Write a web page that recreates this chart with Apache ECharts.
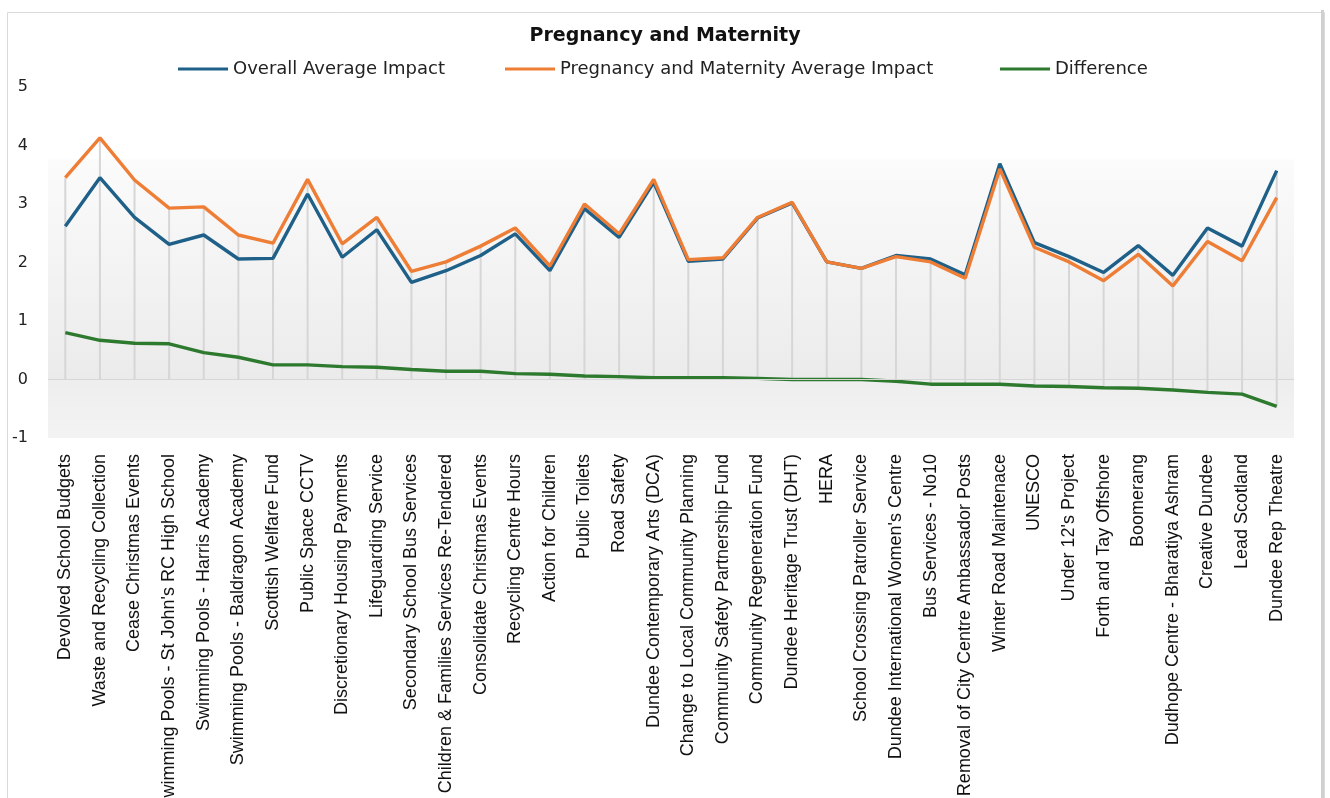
<!DOCTYPE html>
<html>
<head>
<meta charset="utf-8">
<script src="https://cdn.jsdelivr.net/npm/echarts@6/dist/echarts.min.js"></script>
<style>
html,body{margin:0;padding:0;background:#fff;}
#chart{width:1330px;height:798px;}
</style>
</head>
<body>
<div id="chart"></div>
<script>
const categories = [
  "Devolved School Budgets","Waste and Recycling Collection","Cease Christmas Events",
  "Swimming Pools - St John's RC High School","Swimming Pools - Harris Academy","Swimming Pools - Baldragon Academy",
  "Scottish Welfare Fund","Public Space CCTV","Discretionary Housing Payments","Lifeguarding Service",
  "Secondary School Bus Services","Children & Families Services Re-Tendered","Consolidate Christmas Events",
  "Recycling Centre Hours","Action for Children","Public Toilets","Road Safety","Dundee Contemporary Arts (DCA)",
  "Change to Local Community Planning","Community Safety Partnership Fund","Community Regeneration Fund",
  "Dundee Heritage Trust (DHT)","HERA","School Crossing Patroller Service","Dundee International Women's Centre",
  "Bus Services - No10","Removal of City Centre Ambassador Posts","Winter Road Maintenace","UNESCO",
  "Under 12's Project","Forth and Tay Offshore","Boomerang","Dudhope Centre - Bharatiya Ashram",
  "Creative Dundee","Lead Scotland","Dundee Rep Theatre"
];
const overallAvg = [2.62,3.45,2.77,2.31,2.47,2.06,2.07,3.17,2.09,2.56,1.66,1.86,2.12,2.49,1.86,2.92,2.43,3.37,
  2.02,2.06,2.76,3.02,2.01,1.90,2.12,2.06,1.79,3.69,2.34,2.10,1.83,2.29,1.78,2.59,2.28,3.57];
const pregnancyAvg = [3.45,4.13,3.41,2.93,2.95,2.47,2.33,3.42,2.32,2.77,1.85,2.01,2.28,2.59,1.94,3.00,2.49,3.42,
  2.05,2.08,2.77,3.03,2.01,1.90,2.10,2.01,1.73,3.60,2.26,2.01,1.69,2.14,1.60,2.36,2.03,3.11];
const difference = [0.80,0.67,0.62,0.61,0.46,0.38,0.25,0.25,0.22,0.21,0.17,0.14,0.14,0.10,0.09,0.06,0.05,0.03,
  0.03,0.03,0.02,0.00,0.00,0.00,-0.03,-0.08,-0.08,-0.08,-0.11,-0.12,-0.14,-0.15,-0.18,-0.22,-0.25,-0.46];
const yTicks = [-1,0,1,2,3,4,5];
const seriesNames = ["Overall Average Impact","Pregnancy and Maternity Average Impact","Difference"];

const BLUE = '#1f6089', ORANGE = '#ee7d35', GREEN = '#2d7a2f';
const dropData = categories.map((c,i)=>[i, Math.max(overallAvg[i], pregnancyAvg[i], difference[i], 0), Math.min(0, difference[i])]);

const chart = echarts.init(document.getElementById('chart'), null, {renderer:'canvas'});
const legendText = {fontFamily:'DejaVu Sans', fontSize:18, color:'#222'};
function mkLegend(name, left){
  return {data:[name], left:left, top:60, itemWidth:50, itemHeight:3, icon:'rect', itemGap:0, textStyle:legendText, selectedMode:false, padding:0};
}
chart.setOption({
  animation:false,
  backgroundColor:'#fff',
  graphic:[
    {type:'rect', left:5, top:10, shape:{width:1317, height:800}, style:{fill:'none', stroke:'#d9d9d9', lineWidth:1}, silent:true},
    {type:'rect', left:1321, top:10, shape:{width:3, height:800}, style:{fill:'#d0d0d0'}, silent:true}
  ],
  title:{text:'Pregnancy and Maternity', left:'center', top:22,
    textStyle:{fontFamily:'DejaVu Sans', fontWeight:'bold', fontSize:19, color:'#111'}},
  legend:[mkLegend(seriesNames[0],178), mkLegend(seriesNames[1],505), mkLegend(seriesNames[2],1000)],
  grid:{left:48, right:36, top:87, bottom:360, containLabel:false, outerBoundsMode:'none', show:true, borderWidth:0,
    backgroundColor:{type:'linear', x:0, y:0, x2:0, y2:1, colorStops:[
      {offset:0, color:'#ffffff'},{offset:0.205, color:'#ffffff'},{offset:0.208, color:'#fbfbfb'},
      {offset:0.833, color:'#ebebeb'},{offset:0.836, color:'#eeeeee'},{offset:1, color:'#f3f3f3'}]}},
  xAxis:{type:'category', data:categories, boundaryGap:true,
    axisLine:{show:false, onZero:false}, axisTick:{show:false},
    axisLabel:{rotate:90, interval:0, margin:16, fontFamily:'Liberation Sans', fontSize:18, color:'#111'}},
  yAxis:{type:'value', min:-1, max:5, interval:1,
    axisLine:{show:false}, axisTick:{show:false}, splitLine:{show:false},
    axisLabel:{margin:20, fontFamily:'DejaVu Sans', fontSize:16, color:'#222',
      formatter:(v)=> yTicks.includes(v) ? String(v) : ''}},
  series:[
    {type:'custom', name:'drop', silent:true, z:1, data:dropData,
      renderItem:(params, api)=>{
        const i = api.value(0);
        const p1 = api.coord([i, api.value(1)]);
        const p2 = api.coord([i, api.value(2)]);
        return {type:'line', shape:{x1:p1[0], y1:p1[1], x2:p2[0], y2:p2[1]}, style:{stroke:'#d6d6d6', lineWidth:2}};
      },
      markLine:{silent:true, symbol:'none', label:{show:false}, lineStyle:{color:'#d6d6d6', type:'solid', width:1},
        data:[{yAxis:0}]}},
    {type:'line', name:seriesNames[0], data:overallAvg, showSymbol:false, symbol:'none', z:3,
      itemStyle:{color:BLUE}, lineStyle:{color:BLUE, width:3.4}},
    {type:'line', name:seriesNames[1], data:pregnancyAvg, showSymbol:false, symbol:'none', z:4,
      itemStyle:{color:ORANGE}, lineStyle:{color:ORANGE, width:3.4}},
    {type:'line', name:seriesNames[2], data:difference, showSymbol:false, symbol:'none', z:3,
      itemStyle:{color:GREEN}, lineStyle:{color:GREEN, width:3.4}}
  ]
});
</script>
</body>
</html>
